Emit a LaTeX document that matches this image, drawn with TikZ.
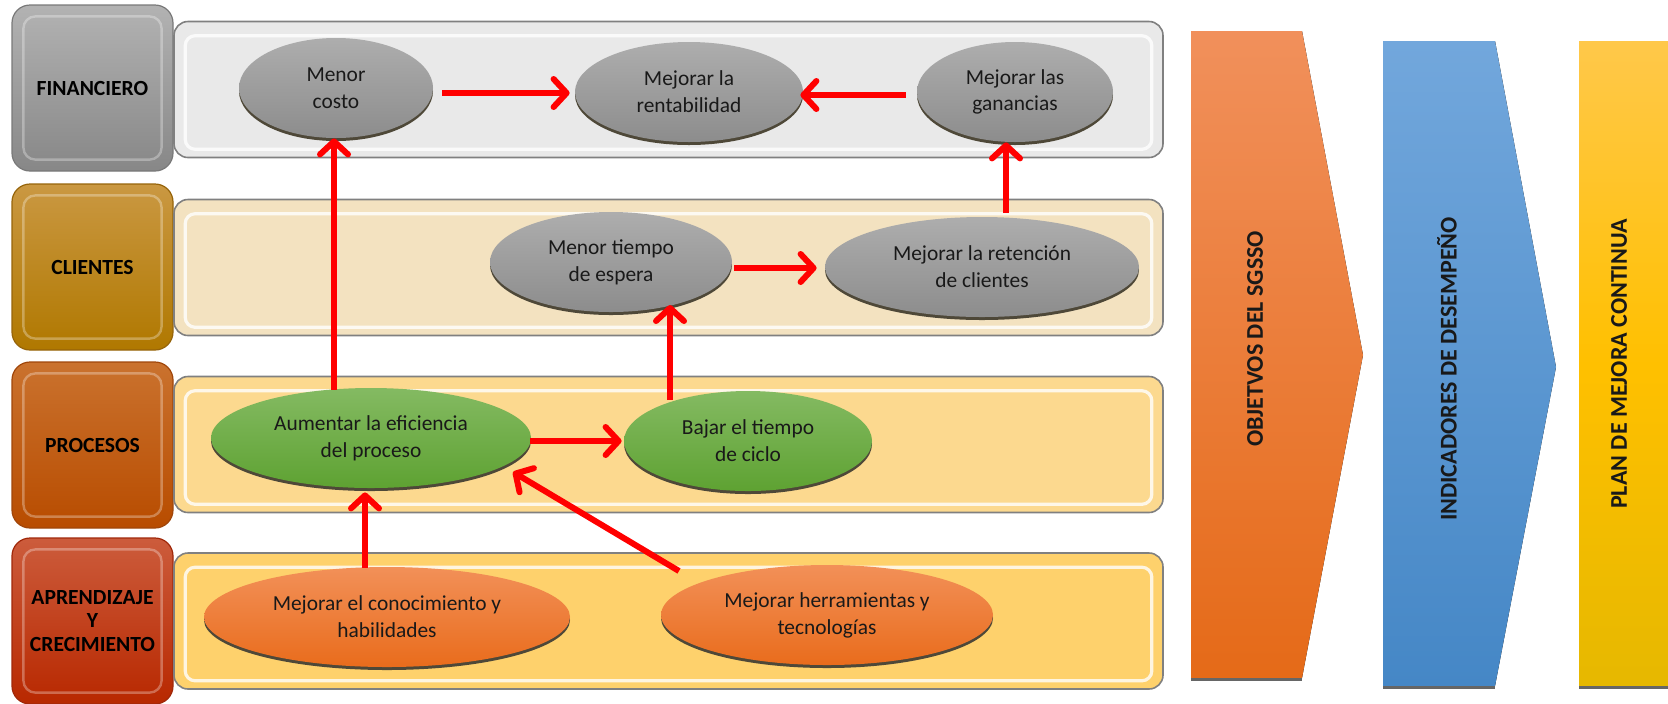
\documentclass[tikz,border=0pt]{standalone}
\usepackage{fontspec}
\setmainfont{Carlito}
\usetikzlibrary{arrows.meta,shapes.geometric,shadows,calc}
\definecolor{shadowcol}{HTML}{4E4838}
\definecolor{linkred}{HTML}{FF0000}
\tikzset{
  lab/.style={rounded corners=9pt, minimum width=80.5pt, minimum height=83pt, inner sep=0pt,
    font=\bfseries\fontsize{10.8}{11.8}\selectfont, align=center, line width=.6pt},
  band/.style={rounded corners=7pt, minimum width=494.5pt, minimum height=68pt, inner sep=0pt, draw=black!50, line width=.8pt},
  bevel/.style={white, line width=1.6pt, opacity=.8, rounded corners=5pt},
  labbevel/.style={white, line width=1.2pt, opacity=.3, rounded corners=6pt},
  obj/.style={ellipse, inner sep=0pt, minimum height=50pt, align=center, font=\fontsize{10.7}{13.4}\selectfont, text=black!90,
    drop shadow={shadow xshift=0pt, shadow yshift=-1.5pt, fill=shadowcol, opacity=1}},
  grayE/.style={obj, top color=gray!64, bottom color=gray!90},
  greenE/.style={obj, top color={rgb,255:red,132;green,186;blue,98}, bottom color={rgb,255:red,94;green,162;blue,50}},
  orangeE/.style={obj, top color={rgb,255:red,242;green,144;blue,88}, bottom color={rgb,255:red,233;green,108;blue,28}},
  link/.style={draw=linkred, line width=3pt, -{Straight Barb[length=6.5pt,width=14pt,round]}},
  sidetxt/.style={rotate=90, font=\bfseries\fontsize{12}{14}\selectfont, text=black!90}
}
\begin{document}
\begin{tikzpicture}[x=0.5pt,y=-0.5pt]
\useasboundingbox (0,0) rectangle (1668,703);

% ---- left label boxes
\node[lab, top color=gray!60, bottom color=gray!94, draw=gray!105] (l1) at (92.5,88) {FINANCIERO};
\node[lab, top color={rgb,255:red,202;green,152;blue,66}, bottom color={rgb,255:red,176;green,120;blue,0}, draw={rgb,255:red,150;green,100;blue,10}] (l2) at (92.5,267) {CLIENTES};
\node[lab, top color={rgb,255:red,202;green,114;blue,46}, bottom color={rgb,255:red,184;green,76;blue,0}, draw={rgb,255:red,160;green,70;blue,10}] (l3) at (92.5,445) {PROCESOS};
\node[lab, top color={rgb,255:red,204;green,92;blue,60}, bottom color={rgb,255:red,184;green,40;blue,0}, draw={rgb,255:red,160;green,40;blue,10}] (l4) at (92.5,621) {APRENDIZAJE\\Y\\CRECIMIENTO};
\foreach \n in {l1,l2,l3,l4}{
  \draw[labbevel] ($(\n.north west)+(12,12)$) rectangle ($(\n.south east)+(-12,-12)$);
}

% ---- bands
\node[band, fill={rgb,255:red,233;green,233;blue,233}] (b1) at (668.5,89.5) {};
\node[band, fill={rgb,255:red,243;green,226;blue,192}] (b2) at (668.5,267.5) {};
\node[band, fill={rgb,255:red,252;green,217;blue,143}] (b3) at (668.5,444.5) {};
\node[band, fill={rgb,255:red,254;green,209;blue,108}] (b4) at (668.5,621) {};
\foreach \n in {b1,b2,b3,b4}{
  \draw[bevel] ($(\n.north west)+(12,15)$) rectangle ($(\n.south east)+(-12,-9)$);
}

% ---- objectives
\node[grayE, minimum width=97pt] (mc) at (336,88) {Menor\\costo};
\node[grayE, minimum width=114pt] (rent) at (689,92) {Mejorar la\\rentabilidad};
\node[grayE, minimum width=98pt] (gan) at (1015,92) {Mejorar las\\ganancias};
\node[grayE, minimum width=121pt] (mt) at (611,262) {Menor tiempo\\de espera};
\node[grayE, minimum width=157pt] (ret) at (982,267) {Mejorar la retención\\de clientes};
\node[greenE, minimum width=160pt] (ae) at (371,438) {Aumentar la eficiencia\\del proceso};
\node[greenE, minimum width=124pt] (bt) at (748,441) {Bajar el tiempo\\de ciclo};
\node[orangeE, minimum width=183pt] (con) at (387,617) {Mejorar el conocimiento y\\habilidades};
\node[orangeE, minimum width=166pt] (her) at (827,615) {Mejorar herramientas y\\tecnologías};

% ---- connectors
\draw[link] ($(mc.east)+(9,5)$) -- ($(rent.west)+(-5,1)$);
\draw[link] ($(gan.west)+(-11,3)$) -- ($(rent.east)+(-3,3)$);
\draw[link] ($(mc.south |- ae.north)+(-2,2)$) -- ($(mc.south)+(-2,0)$);
\draw[link] ($(bt.center)+(-78,-41)$) -- ($(mt.center)+(59,43)$);
\draw[link] ($(ret.north)+(24,-4)$) -- ($(gan.south)+(-9,0)$);
\draw[link] ($(mt.east)+(2,6)$) -- ($(ret.west)+(-8,1)$);
\draw[link] ($(ae.east)+(-1,3)$) -- ($(bt.west)+(-2,0)$);
\draw[link] ($(ae.south |- con.north)+(-6,1)$) -- ($(ae.south)+(-6,4)$);
\draw[link] ($(her.center)+(-148,-44)$) -- ($(ae.center)+(142,34)$);

% ---- right chevrons
\fill[top color={rgb,255:red,241;green,144;blue,91}, bottom color={rgb,255:red,229;green,106;blue,24}]
  (1191,31) -- (1302,31) -- (1363,355) -- (1302,678) -- (1191,678) -- cycle;
\draw[black!60, line width=1.5pt] (1191,679) -- (1302,679);
\fill[top color={rgb,255:red,114;green,167;blue,220}, bottom color={rgb,255:red,69;green,135;blue,198}]
  (1383,41) -- (1495,41) -- (1556,367) -- (1495,686) -- (1383,686) -- cycle;
\draw[black!60, line width=1.5pt] (1383,687) -- (1495,687);
\fill[top color={rgb,255:red,255;green,200;blue,74}, bottom color={rgb,255:red,230;green,184;blue,0}, middle color={rgb,255:red,255;green,192;blue,0}]
  (1579,41) rectangle (1668,686);
\draw[black!60, line width=1.5pt] (1579,687) -- (1668,687);

\node[sidetxt] (t1) at (1255,339) {OBJETVOS DEL SGSSO};
\node[sidetxt] (t2) at (1447,369) {INDICADORES DE DESEMPEÑO};
\node[sidetxt] (t3) at (1619,364) {PLAN DE MEJORA CONTINUA};
\end{tikzpicture}
\end{document}
